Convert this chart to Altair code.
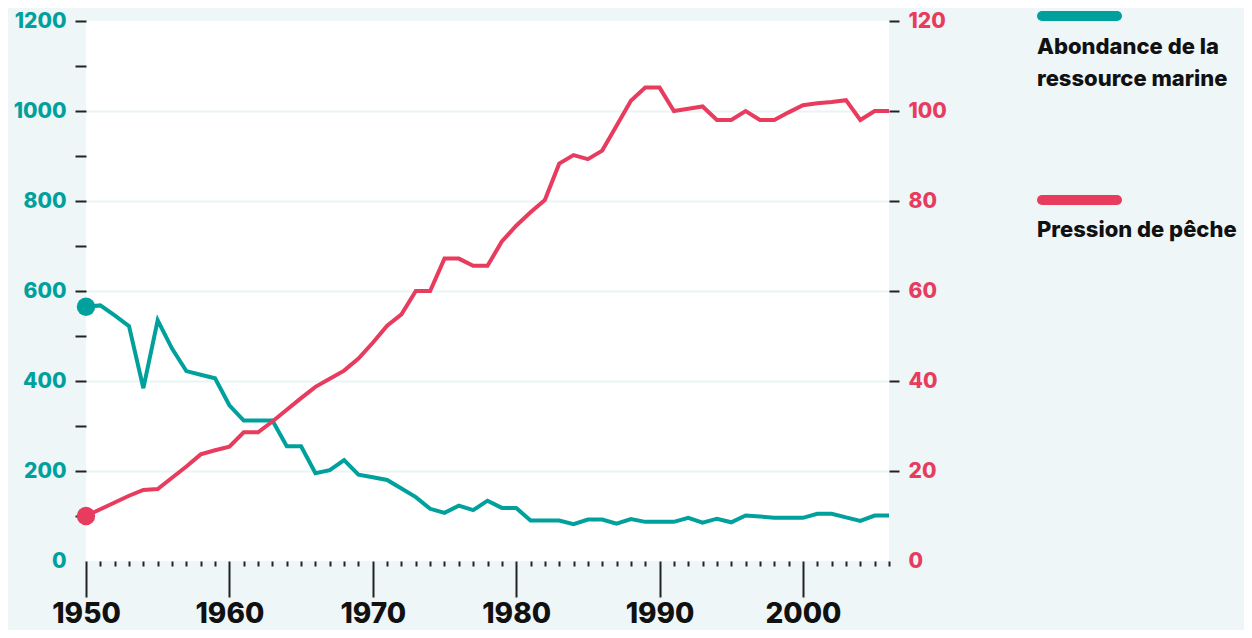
import altair as alt
import pandas as pd

years = list(range(1950, 2007))
abondance = [565, 568, 546, 522, 384, 535, 472, 422, 414, 406,
             346, 312, 312, 312, 255, 255, 195, 202, 224, 192,
             186, 180, 161, 142, 116, 107, 123, 113, 134, 118,
             118, 90, 90, 90, 82, 92, 92, 83, 93, 87,
             87, 87, 96, 85, 94, 86, 101, 99, 96, 96,
             96, 105, 105, 97, 89, 101, 101]
pression = [10, 11.5, 13, 14.5, 15.8, 16, 18.5, 21, 23.7, 24.6,
            25.4, 28.6, 28.6, 31, 33.6, 36.2, 38.7, 40.5, 42.3, 45,
            48.5, 52.3, 54.8, 60, 60, 67.2, 67.2, 65.6, 65.6, 71,
            74.5, 77.5, 80.2, 88.3, 90.2, 89.3, 91.2, 96.7, 102.3, 105.2,
            105.2, 100, 100.5, 101, 98, 98, 100, 98, 98, 99.7,
            101.3, 101.7, 102, 102.4, 98, 100, 100]

series_names = ["Abondance de la\nressource marine", "Pression de pêche"]
series_colors = ["#00A09C", "#E83C5F"]

TEAL, PINK = series_colors
FONT = "Inter"
BG = "#EEF6F8"

df = pd.DataFrame({"year": years, "abondance": abondance, "pression": pression})

x_enc = alt.X(
    "year:Q",
    scale=alt.Scale(domain=[1950, 2006], nice=False, zero=False),
    axis=alt.Axis(
        values=years,
        format="d",
        labelExpr="datum.value % 10 === 0 ? datum.label : ''",
        tickSize={"condition": {"test": "datum.value % 10 === 0", "value": 36}, "value": 5},
        tickWidth=2,
        tickColor="#222222",
        domain=False,
        grid=False,
        labelFont=FONT,
        labelFontSize=28,
        labelFontWeight=800,
        labelColor="#111111",
        labelBaseline="alphabetic",
        labelPadding=25,
        labelFlush=False,
        labelOverlap=False,
        title=None,
    ),
)

y_left = alt.Y(
    "abondance:Q",
    scale=alt.Scale(domain=[0, 1200], nice=False),
    axis=alt.Axis(
        values=list(range(0, 1300, 100)),
        format="d",
        labelExpr="datum.value % 200 === 0 ? datum.label : ''",
        tickOpacity={"condition": {"test": "datum.value === 0", "value": 0}, "value": 1},
        tickSize=11,
        tickWidth=2,
        tickColor="#222222",
        domain=False,
        grid=True,
        gridColor="#EAF4F6",
        gridWidth=2,
        gridOpacity={"condition": {"test": "datum.value % 200 !== 0 || datum.value === 0 || datum.value === 1200", "value": 0}, "value": 1},
        labelFont=FONT,
        labelFontSize=21,
        labelFontWeight=800,
        labelColor=TEAL,
        labelPadding=9,
        labelOverlap=False,
        title=None,
    ),
)

y_right = alt.Y(
    "pression:Q",
    scale=alt.Scale(domain=[0, 120], nice=False),
    axis=alt.Axis(
        orient="right",
        values=list(range(0, 140, 20)),
        format="d",
        tickOpacity={"condition": {"test": "datum.value === 0", "value": 0}, "value": 1},
        tickSize=10,
        tickWidth=2,
        tickColor="#222222",
        domain=False,
        grid=False,
        labelFont=FONT,
        labelFontSize=21,
        labelFontWeight=800,
        labelColor=PINK,
        labelPadding=9,
        labelOverlap=False,
        title=None,
    ),
)

base = alt.Chart(df)

teal = alt.layer(
    base.mark_line(color=TEAL, strokeWidth=4, strokeJoin="miter").encode(x=x_enc, y=y_left),
    base.transform_filter("datum.year === 1950").mark_circle(color=TEAL, size=340, opacity=1).encode(x=x_enc, y=y_left),
)
pink = alt.layer(
    base.mark_line(color=PINK, strokeWidth=4, strokeJoin="miter").encode(x=x_enc, y=y_right),
    base.transform_filter("datum.year === 1950").mark_circle(color=PINK, size=340, opacity=1).encode(x=x_enc, y=y_right),
)

legend_df = pd.DataFrame({"name": series_names, "color": series_colors})
leg_teal_line = alt.Chart(legend_df).transform_filter(alt.datum.name == series_names[0]).mark_rule(
    color=TEAL, strokeWidth=10, strokeCap="round").encode(x=alt.value(956), x2=alt.value(1031), y=alt.value(-5))
leg_pink_line = alt.Chart(legend_df).transform_filter(alt.datum.name == series_names[1]).mark_rule(
    color=PINK, strokeWidth=10, strokeCap="round").encode(x=alt.value(956), x2=alt.value(1031), y=alt.value(179))
leg_teal_text = alt.Chart(legend_df).transform_filter(alt.datum.name == series_names[0]).mark_text(
    align="left", baseline="alphabetic", font=FONT, fontSize=22, fontWeight=800, color="#111111",
    lineBreak="\n", lineHeight=32).encode(x=alt.value(951), y=alt.value(33), text="name:N")
leg_pink_text = alt.Chart(legend_df).transform_filter(alt.datum.name == series_names[1]).mark_text(
    align="left", baseline="alphabetic", font=FONT, fontSize=22, fontWeight=800, color="#111111",
    lineBreak="\n", lineHeight=32).encode(x=alt.value(951), y=alt.value(216), text="name:N")

chart = alt.layer(
    teal, pink, leg_teal_line, leg_pink_line, leg_teal_text, leg_pink_text
).resolve_scale(y="independent").properties(
    width=803,
    height=540,
    autosize=alt.AutoSizeParams(type="none"),
    padding={"left": 78, "top": 13, "right": 355, "bottom": 69},
    background=BG,
).configure_view(fill="white", stroke=None)

chart.save("out.html", embed_options={"renderer": "svg", "actions": False})
